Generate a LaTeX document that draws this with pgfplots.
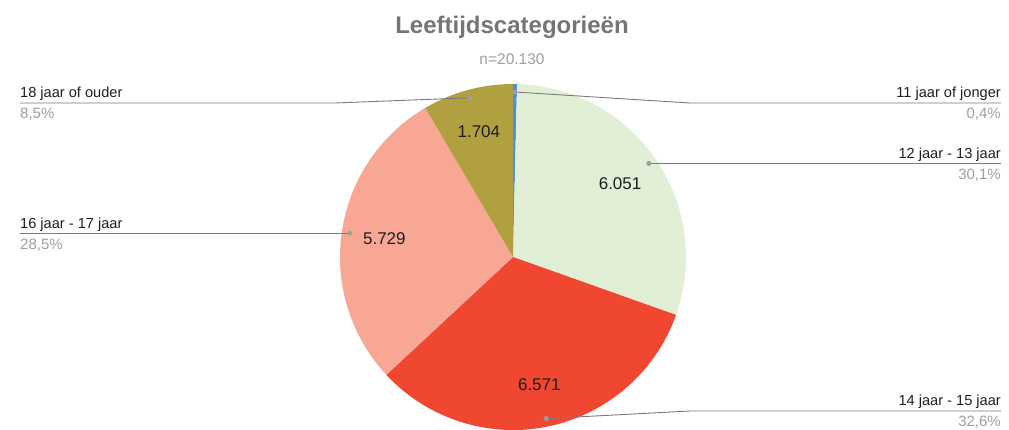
\documentclass[border=0pt]{standalone}
\usepackage{pgfplots}
\usepackage{pgfplotstable}
\pgfplotsset{compat=1.18}
\usepackage{fontspec}
\setmainfont{Liberation Sans}
\definecolor{cA}{HTML}{4A90D9}
\definecolor{cB}{HTML}{E0EFD6}
\definecolor{cC}{HTML}{F04730}
\definecolor{cD}{HTML}{F7A793}
\definecolor{cE}{HTML}{B0A040}
\definecolor{titlegray}{HTML}{757575}
\definecolor{subgray}{HTML}{9E9E9E}
\definecolor{linegray}{HTML}{7A7A7A}
\definecolor{dotgray}{HTML}{9E9E9E}
\definecolor{txt}{HTML}{1E1E1E}
\pgfplotstableread{
lab val
a 75
b 6051
c 6571
d 5729
e 1704
}\slices
\pgfplotstablegetelem{0}{val}\of\slices\edef\vA{\pgfplotsretval}
\pgfplotstablegetelem{1}{val}\of\slices\edef\vB{\pgfplotsretval}
\pgfplotstablegetelem{2}{val}\of\slices\edef\vC{\pgfplotsretval}
\pgfplotstablegetelem{3}{val}\of\slices\edef\vD{\pgfplotsretval}
\pgfplotstablegetelem{4}{val}\of\slices\edef\vE{\pgfplotsretval}
\edef\tot{\fpeval{\vA+\vB+\vC+\vD+\vE}}
\edef\aA{90}
\edef\aB{\fpeval{\aA-360*\vA/\tot}}
\edef\aC{\fpeval{\aB-360*\vB/\tot}}
\edef\aD{\fpeval{\aC-360*\vC/\tot}}
\edef\aE{\fpeval{\aD-360*\vD/\tot}}
\edef\aF{\fpeval{\aE-360*\vE/\tot}}
\edef\mA{\fpeval{(\aA+\aB)/2}}
\edef\mB{\fpeval{(\aB+\aC)/2}}
\edef\mC{\fpeval{(\aC+\aD)/2}}
\edef\mD{\fpeval{(\aD+\aE)/2}}
\edef\mE{\fpeval{(\aE+\aF)/2}}
\edef\pA{\fpeval{round(100*\vA/\tot,1)}}
\edef\pB{\fpeval{round(100*\vB/\tot,1)}}
\edef\pC{\fpeval{round(100*\vC/\tot,1)}}
\edef\pD{\fpeval{round(100*\vD/\tot,1)}}
\edef\pE{\fpeval{round(100*\vE/\tot,1)}}
\def\cx{513}\def\cy{173}\def\R{173}\def\rd{165}\def\rv{130}
\newcommand\slice[3]{\fill[#1] (axis cs:\cx,\cy) -- (axis cs:{\cx+\R*cos(#2)},{\cy+\R*sin(#2)}) arc[start angle=#2,end angle=#3,radius=\R pt] -- cycle;}
\newcommand\pct[1]{\pgfmathprintnumber[fixed,precision=1,fixed zerofill,use comma,assume math mode=true]{#1}\%}
\newcommand\num[1]{\pgfmathprintnumber[use comma,assume math mode=true]{#1}}
\newcommand\labfont{\fontsize{14.6}{17}\selectfont}
\newcommand\pctfont{\fontsize{15}{17}\selectfont}
\newcommand\valfont{\fontsize{17}{19}\selectfont}
\begin{document}
\begin{tikzpicture}
\begin{axis}[x=1pt,y=1pt,xmin=0,xmax=1009,ymin=0,ymax=430,hide axis,scale only axis,clip=false]
\slice{cA}{\aA}{\aB}
\slice{cB}{\aB}{\aC}
\slice{cC}{\aC}{\aD}
\slice{cD}{\aD}{\aE}
\slice{cE}{\aE}{\aF}
% value labels
\node[txt,font=\valfont] at (axis cs:{\cx+\rv*cos(\mB)},{\cy+\rv*sin(\mB)}) {\num{\vB}};
\node[txt,font=\valfont] at (axis cs:{\cx+\rv*cos(\mC)},{\cy+\rv*sin(\mC)}) {\num{\vC}};
\node[txt,font=\valfont] at (axis cs:{\cx+\rv*cos(\mD)},{\cy+\rv*sin(\mD)}) {\num{\vD}};
\node[txt,font=\valfont] at (axis cs:{\cx+\rv*cos(\mE)},{\cy+\rv*sin(\mE)}) {\num{\vE}};
% dots
\coordinate (dA) at (axis cs:{\cx+\rd*cos(\mA)},{\cy+\rd*sin(\mA)});
\coordinate (dB) at (axis cs:{\cx+\rd*cos(\mB)},{\cy+\rd*sin(\mB)});
\coordinate (dC) at (axis cs:{\cx+\rd*cos(\mC)},{\cy+\rd*sin(\mC)});
\coordinate (dD) at (axis cs:{\cx+\rd*cos(\mD)},{\cy+\rd*sin(\mD)});
\coordinate (dE) at (axis cs:{\cx+\rd*cos(\mE)},{\cy+\rd*sin(\mE)});
\coordinate (Rr) at (axis cs:1001,0);
\coordinate (Ll) at (axis cs:20,0);
\coordinate (eA) at (axis cs:1001,327);
\coordinate (eB) at (dB -| Rr);
\coordinate (eC) at (axis cs:1001,19);
\coordinate (eD) at (dD -| Ll);
\coordinate (eE) at (axis cs:20,327);
\draw[linegray,line width=0.9pt] (dA) -- (axis cs:690,327) -- (eA);
\draw[linegray,line width=0.9pt] (dB) -- (eB);
\draw[linegray,line width=0.9pt] (dC) -- (axis cs:690,19) -- (eC);
\draw[linegray,line width=0.9pt] (dD) -- (eD);
\draw[linegray,line width=0.9pt] (dE) -- (axis cs:335,327) -- (eE);
\fill[dotgray] (dA) circle[radius=2.5pt];
\fill[dotgray] (dB) circle[radius=2.5pt];
\fill[dotgray] (dC) circle[radius=2.5pt];
\fill[dotgray] (dD) circle[radius=2.5pt];
\fill[dotgray] (dE) circle[radius=2.5pt];
% labels
\node[txt,font=\labfont,anchor=base east,inner sep=0pt] at ([yshift=5pt]eA) {11 jaar of jonger};
\node[subgray,font=\pctfont,anchor=base east,inner sep=0pt] at ([yshift=-16pt]eA) {\pct{\pA}};
\node[txt,font=\labfont,anchor=base east,inner sep=0pt] at ([yshift=5pt]eB) {12 jaar - 13 jaar};
\node[subgray,font=\pctfont,anchor=base east,inner sep=0pt] at ([yshift=-16pt]eB) {\pct{\pB}};
\node[txt,font=\labfont,anchor=base east,inner sep=0pt] at ([yshift=5pt]eC) {14 jaar - 15 jaar};
\node[subgray,font=\pctfont,anchor=base east,inner sep=0pt] at ([yshift=-16pt]eC) {\pct{\pC}};
\node[txt,font=\labfont,anchor=base west,inner sep=0pt] at ([yshift=5pt]eD) {16 jaar - 17 jaar};
\node[subgray,font=\pctfont,anchor=base west,inner sep=0pt] at ([yshift=-16pt]eD) {\pct{\pD}};
\node[txt,font=\labfont,anchor=base west,inner sep=0pt] at ([yshift=5pt]eE) {18 jaar of ouder};
\node[subgray,font=\pctfont,anchor=base west,inner sep=0pt] at ([yshift=-16pt]eE) {\pct{\pE}};
% title
\node[titlegray,font=\fontsize{24}{28}\selectfont\bfseries,anchor=base,inner sep=0pt] at (axis cs:512,396) {Leeftijdscategorieën};
\node[subgray,font=\fontsize{15.5}{18}\selectfont,anchor=base,inner sep=0pt] at (axis cs:512,365) {n=20.130};
\coordinate (BBsw) at (axis cs:0,0);
\coordinate (BBne) at (axis cs:1009,430);
\end{axis}
\pgfresetboundingbox
\path (BBsw) rectangle (BBne);
\end{tikzpicture}
\end{document}
